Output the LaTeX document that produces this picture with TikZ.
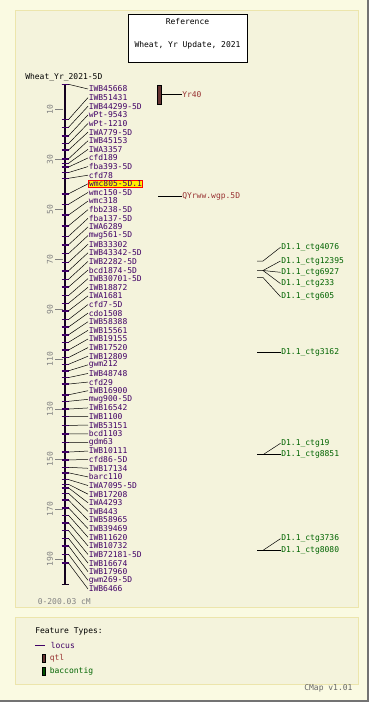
\documentclass[tikz,border=0pt]{standalone}
\usepackage{fontspec}
\newfontfamily\mapfont{DejaVu Sans Mono}
\usetikzlibrary{positioning}
\definecolor{pagebg}{RGB}{250,250,226}
\definecolor{panelbg}{RGB}{244,243,220}
\definecolor{panelrule}{RGB}{236,229,172}
\definecolor{locuscol}{RGB}{64,0,102}
\definecolor{qtlcol}{RGB}{153,51,51}
\definecolor{qtlfill}{RGB}{102,51,51}
\definecolor{ctgcol}{RGB}{0,100,0}
\definecolor{scalecol}{RGB}{130,130,130}
\tikzset{
  panel/.style={draw=panelrule, line width=1pt, fill=panelbg},
  maptext/.style={font=\mapfont\fontsize{8}{9}\selectfont, inner sep=0.6pt, anchor=west},
  locuslabel/.style={maptext, text=locuscol},
  hilite/.style={draw=red, fill=yellow, line width=0.8pt},
  qtllabel/.style={maptext, text=qtlcol},
  ctglabel/.style={maptext, text=ctgcol},
  scalelabel/.style={maptext, text=scalecol, anchor=center, rotate=90},
  leader/.style={black, line width=0.5pt},
  markertick/.style={locuscol, line width=1.6pt},
  barline/.style={black!70!locuscol, line width=1.8pt}
}

\begin{document}
\begin{tikzpicture}[x=1pt, y=-1pt]
  \fill[pagebg] (0,0) rectangle (369,702);
  \useasboundingbox (0,0) rectangle (369,702);
  \draw[black!55, line width=1.5pt] (368.2,0) -- (368.2,701.2) -- (0,701.2);
  \draw[panel] (15,10) rectangle (358,607);
  \draw[panel] (15,617) rectangle (358,684);

  % title box
  \draw[black, line width=0.8pt, fill=white] (128,14) rectangle (247,62);
  \node[maptext, anchor=center] (reftitle) at (187.5,22) {Reference};
  \node[maptext, anchor=center] (refsub) at (187.5,45) {Wheat, Yr Update, 2021};
  \node[maptext] (mapname) at (24.5,77) {Wheat\_Yr\_2021-5D};

  % chromosome bar and scale
  \coordinate (bartop) at (65,84.3);
  \coordinate (barbot) at (65,584.4);
  \draw[barline] (bartop) -- (barbot);
  \draw[barline, line width=1.2pt] (61.5,84.3) -- (68.5,84.3);
  \draw[barline, line width=1.2pt] (61.5,584.4) -- (68.5,584.4);
  \foreach \v in {10,30,...,190}{
    \pgfmathsetmacro\ty{84.3+2.5*\v}
    \draw[scalecol, line width=0.6pt] (55,\ty) -- (63,\ty);
    \node[scalelabel] (s\v) at (50,\ty) {\v};
  }

  % loci
  \foreach \nm/\cm [count=\i from 0] in {IWB45668/0, IWB51431/14.1, IWB44299-5D/17.2,
      wPt-9543/20.6, wPt-1210/23.7, IWA779-5D/26.3, IWB45153/29.8, IWA3357/31.6,
      cfd189/33.1, fba393-5D/35.3, cfd78/37.6, wmc805-5D.1/43.8, wmc150-5D/48,
      wmc318/52.3, fbb238-5D/56.6, fba137-5D/60.8, IWA6289/64.2, mwg561-5D/67.7,
      IWB33302/71.2, IWB43342-5D/74.6, IWB2282-5D/78, bcd1874-5D/81.1,
      IWB30701-5D/84.5, IWB18872/87.6, IWA1681/90.6, cfd7-5D/94.1, cdo1508/97.1,
      IWB58388/100.2, IWB15561/103.2, IWB19155/106.3, IWB17520/109.3,
      IWB12809/112, gwm212/114.6, IWB48748/117.3, cfd29/119.9, IWB16900/124.2,
      mwg900-5D/126.8, IWB16542/129.9, IWB1100/132.9, IWB53151/136.4,
      bcd1103/139.8, gdm63/143.2, IWB10111/147.1, cfd86-5D/150.2, IWB17134/153.2,
      barc110/155.4, IWA7095-5D/158.1, IWB17208/160, IWA4293/161.4, IWB443/163.6,
      IWB58965/166.3, IWB39469/169.4, IWB11620/172.4, IWB10732/175.4,
      IWB72181-5D/178.5, IWB16674/181.6, IWB17960/184.6, gwm269-5D/188,
      IWB6466/191.5}{
    \pgfmathsetmacro\ly{89+8.62*\i}
    \pgfmathsetmacro\my{84.3+2.5*\cm}
    \coordinate (p\i) at (68.5,\my);
    \draw[markertick] (61.5,\my) -- (68.5,\my);
    \ifnum\i=11
      \node[locuslabel, hilite] (l\i) at (88,\ly) {\nm};
    \else
      \node[locuslabel] (l\i) at (88,\ly) {\nm};
    \fi
    \draw[leader] (p\i) -- (l\i.west);
  }

  % qtls
  \draw[black, line width=0.4pt, fill=qtlfill] (157.5,85) rectangle (161.5,104);
  \coordinate (yr40) at (161.5,94.4);
  \node[qtllabel] (yr40lab) at (181.5,94.4) {Yr40};
  \draw[leader] (yr40) -- (yr40lab.west);
  \coordinate (qyr) at (158.3,196.3);
  \node[qtllabel] (qyrlab) at (181.5,196.3) {QYrww.wgp.5D};
  \draw[leader] (qyr) -- (qyrlab.west);

  % contigs
  \foreach \n/\y in {4076/247.3, 12395/261, 6927/272.3, 233/283.6, 605/296.7,
      3162/352.7, 19/443.3, 8851/454.7, 3736/538.7, 8080/550.3}{
    \node[ctglabel] (ctg\n) at (280.5,\y) {D1.1\_ctg\n};
  }
  \coordinate (c1) at (257,261);   \coordinate (f1) at (263,261);
  \coordinate (c2) at (257,270.5); \coordinate (f2) at (263,270.5);
  \coordinate (c3) at (257,277.5); \coordinate (f3) at (263,277.5);
  \coordinate (c4) at (257,352.7);
  \coordinate (c5) at (257,454.7); \coordinate (f5) at (263,454.7);
  \coordinate (c6) at (257,550.3); \coordinate (f6) at (263,550.3);
  \draw[leader] (c1) -- (f1) -- (ctg4076.west);
  \draw[leader] (c2) -- (f2) -- (ctg12395.west);
  \draw[leader] (f2) -- (ctg6927.west);
  \draw[leader] (f2) -- (ctg233.west);
  \draw[leader] (c3) -- (f3) -- (ctg605.west);
  \draw[leader] (c4) -- (ctg3162.west);
  \draw[leader] (c5) -- (ctg8851.west);
  \draw[leader] (f5) -- (ctg19.west);
  \draw[leader] (c6) -- (ctg8080.west);
  \draw[leader] (f6) -- (ctg3736.west);

  \node[maptext, text=scalecol] (range) at (37,602) {0-200.03 cM};

  % legend
  \node[maptext] (ftypes) at (34.5,631) {Feature Types:};
  \draw[locuscol, line width=0.8pt] (35,645) -- (45,645);
  \node[locuslabel] (leglocus) at (50,645) {locus};
  \draw[black, line width=0.3pt, fill=qtlfill] (42.5,654) rectangle (45.5,662.5);
  \node[qtllabel] (legqtl) at (49,658) {qtl};
  \draw[black, line width=0.3pt, fill=ctgcol!80!black] (42.5,667) rectangle (45.5,675.5);
  \node[ctglabel] (legctg) at (49,671) {baccontig};
  \node[maptext, text=black!60] (cmapver) at (303.5,688) {CMap v1.01};
\end{tikzpicture}
\end{document}
